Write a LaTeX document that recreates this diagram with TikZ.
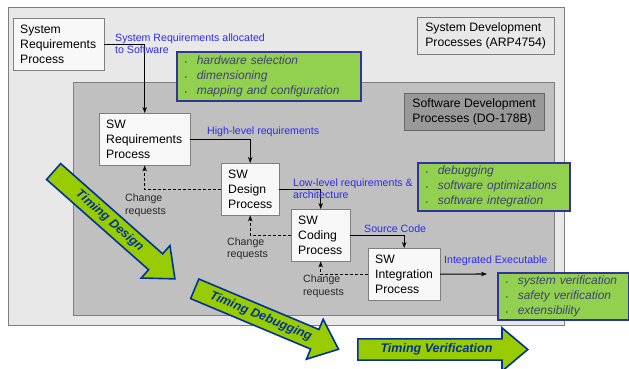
\documentclass[tikz,border=0pt]{standalone}
\usepackage{fontspec}
\setmainfont{Liberation Sans}
\usetikzlibrary{arrows.meta,shapes.arrows}
\definecolor{bgout}{HTML}{E8E8E8}
\definecolor{bgin}{HTML}{C0C0C0}
\definecolor{framegray}{HTML}{7F7F7F}
\definecolor{boxwhite}{HTML}{F8F8F8}
\definecolor{dogray}{HTML}{999999}
\definecolor{notegreen}{HTML}{92D050}
\definecolor{noteblue}{HTML}{333399}
\definecolor{notetext}{HTML}{40407A}
\definecolor{labelblue}{HTML}{2B2BF0}
\definecolor{arrowgreen}{HTML}{99CC00}
\definecolor{arrowblue}{HTML}{003399}
\newcommand{\itm}[1]{\makebox[12pt][l]{\fontsize{6}{6}\selectfont\textbullet}\textit{#1}}

\begin{document}
\begin{tikzpicture}[x=1pt,y=-1pt]
        \tikzstyle{every node}=[inner sep=0pt]
        \tikzstyle{proc}=[draw=framegray, fill=boxwhite, anchor=north west, align=left, inner xsep=7pt, minimum height=52pt, font=\fontsize{12.2}{15}\selectfont]
        \tikzstyle{title}=[draw=framegray, anchor=north west, align=left, inner xsep=7pt, minimum height=37pt, font=\fontsize{12.2}{15}\selectfont]
        \tikzstyle{note}=[draw=noteblue, fill=notegreen, line width=1.6pt, anchor=north west, align=left, inner xsep=8pt, font=\fontsize{12}{15}\selectfont, text=notetext]
        \tikzstyle{lbl}=[anchor=west, align=left, text=labelblue, font=\fontsize{10.6}{12.5}\selectfont]
        \tikzstyle{chg}=[anchor=west, align=left, text=black!85, font=\fontsize{10.6}{12.5}\selectfont]
        \tikzstyle{flow}=[line width=1.1pt, -{Stealth[length=6pt,width=4.5pt]}]
        \tikzstyle{back}=[flow, densely dashed]
        \tikzstyle{timing}=[single arrow, draw=arrowblue, fill=arrowgreen, line width=1.6pt, single arrow head extend=11pt, single arrow tip angle=80, single arrow head indent=0pt, inner ysep=4pt, inner xsep=4pt, anchor=tail, text=arrowblue, font=\fontsize{12.5}{14}\selectfont\bfseries\itshape]

        \useasboundingbox (0,0) rectangle (629,369);
        % process areas
        \draw[framegray, fill=bgout] (8,7) rectangle (564,325);
        \draw[framegray, fill=bgin] (73,82) rectangle (554,315);
        \node[title, fill=bgout, minimum width=137pt] (arp) at (417,17) {System Development\\Processes (ARP4754)};
        \node[title, fill=dogray, draw=black!60, minimum width=140pt, inner xsep=8pt] (do) at (404,93) {Software Development\\Processes (DO-178B)};

        % timing arrows
        \node[timing, rotate=-41.5, minimum height=162pt] (tdesign) at (53,171) {Timing Design};
        \node[timing, rotate=-22.8, minimum height=156pt] (tdebug) at (194,288.5) {Timing Debugging};
        \node[timing, minimum height=170pt] (tverif) at (357,349.5) {Timing Verification};

        % processes
        \node[proc, text width=77pt] (sysreq) at (13,18) {System\\Requirements\\Process};
        \node[proc, text width=77pt] (swreq) at (99,113) {SW\\Requirements\\Process};
        \node[proc, text width=44pt] (design) at (221,163) {SW\\Design\\Process};
        \node[proc, text width=45pt] (coding) at (291,209) {SW\\Coding\\Process};
        \node[proc, text width=58pt] (integ) at (368,248) {SW\\Integration\\Process};
        \coordinate (exe) at (487,274);

        \draw[flow] (sysreq.east) -| (swreq.north);
        \draw[flow] (swreq.east) -| (design.north);
        \draw[flow] (design.east) -| (coding.north);
        \draw[flow] (coding.east) -| (integ.north);
        \draw[flow] (integ.east) -- (exe);
        \draw[back] (design.west) -| (swreq.south);
        \draw[back] (coding.west) -| (design.south);
        \draw[back] (integ.west) -| (coding.south);

        \node[lbl] (l1) at (115,43.5) {System Requirements allocated\\to Software};
        \node[lbl] (l2) at (207,131.5) {High-level requirements};
        \node[lbl] (l3) at (293,188.5) {Low-level requirements \&\\architecture};
        \node[lbl] (l4) at (364,229) {Source Code};
        \node[lbl] (l5) at (444,261) {Integrated Executable};
        \node[chg] (c1) at (125,205.5) {Change\\requests};
        \node[chg] (c2) at (227,249) {Change\\requests};
        \node[chg] (c3) at (303,286.5) {Change\\requests};

        % notes
        \node[note, text width=168pt, minimum height=49pt] (n1) at (176,51) {\itm{hardware selection}\\\itm{dimensioning}\\\itm{mapping and configuration}};
        \node[note, text width=136pt, minimum height=48pt] (n2) at (417,162) {\itm{debugging}\\\itm{software optimizations}\\\itm{software integration}};
        \node[note, text width=115pt, minimum height=47pt] (n3) at (497,272) {\itm{system verification}\\\itm{safety verification}\\\itm{extensibility}};
    \end{tikzpicture}
\end{document}
